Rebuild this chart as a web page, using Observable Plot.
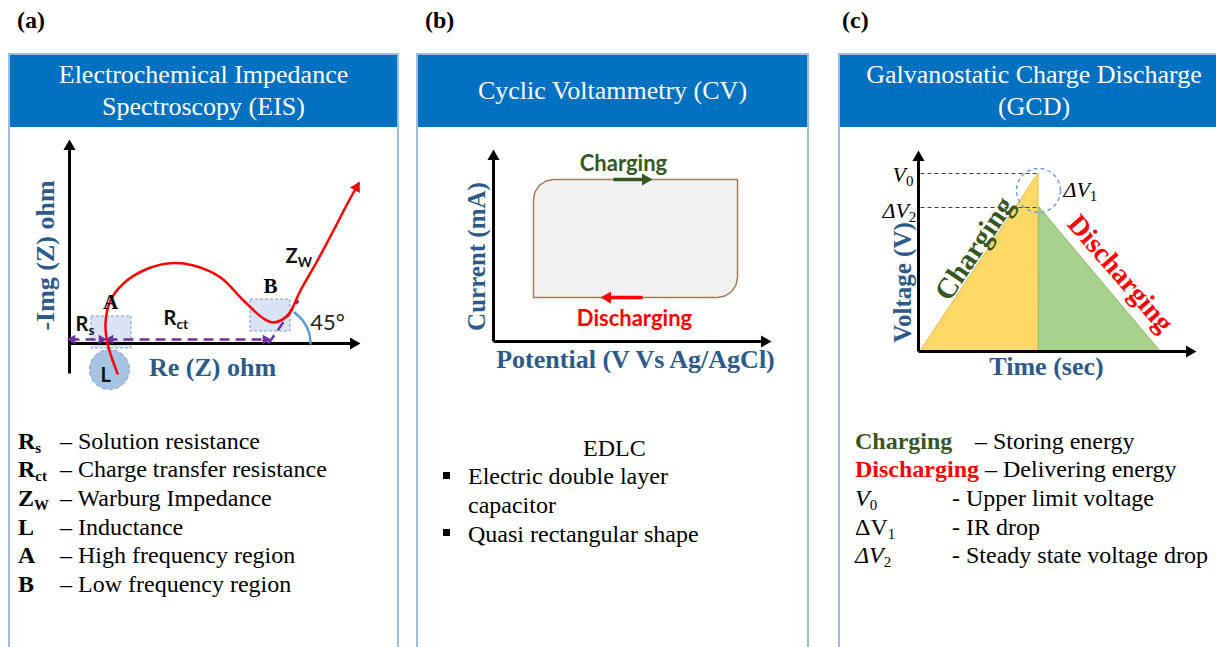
<!DOCTYPE html>
<html><head><meta charset="utf-8">
<script src="https://cdn.jsdelivr.net/npm/d3@7"></script>
<script src="https://cdn.jsdelivr.net/npm/@observablehq/plot@0.6"></script>
<style>
body{margin:0;width:1216px;height:647px;overflow:hidden;background:#fff;position:relative;font-family:"Liberation Serif",serif;color:#000;}
.plabel{position:absolute;top:8px;font-weight:bold;font-size:24px;line-height:24px;}
.panel{position:absolute;top:53px;height:620px;border:2px solid #a3bad9;box-sizing:border-box;}
.head{height:72px;background:#0070c0;color:#fff;font-size:26px;line-height:32px;text-align:center;display:flex;align-items:center;justify-content:center;}
.chart{position:absolute;}
.list{position:absolute;font-size:24px;line-height:28.7px;white-space:nowrap;}
.list sub{font-size:0.62em;vertical-align:-0.25em;line-height:0;}
.sq{display:inline-block;width:7px;height:7px;background:#000;vertical-align:0.22em;}
</style></head><body>
<div id="root"></div>
<script>
// ---------- text content ----------
const panelLetters = ["(a)", "(b)", "(c)"];
const panelTitles = [["Electrochemical Impedance", "Spectroscopy (EIS)"], ["Cyclic Voltammetry (CV)"], ["Galvanostatic Charge Discharge", "(GCD)"]];

// ---------- (a) EIS schematic (Re(Z) right, -Im(Z) up) ----------
const eisRe = [48, 38, 36, 41, 54, 74, 98, 124, 151, 174, 194, 204, 218, 231, 248, 264, 278, 289];
const eisIm = [-30, 0, 20, 43, 60, 73, 80, 78, 66, 43, 25, 21, 28, 53, 83, 113, 140, 160];
const eisAxes = [{x1: 0, y1: -30, x2: 0, y2: 196}, {x1: 0, y1: 0, x2: 283, y2: 0}];
const eisAxisHeads = [{x: 0, y: 197, a: 0}, {x: 284, y: 0, a: 90}];
const eisRegions = [{x1: 22, x2: 62, y1: -5, y2: 27}, {x1: 181, x2: 221, y1: 12, y2: 44}];
const eisInductance = [{x: 40, y: -26}];
const eisDims = [{x1: 0, x2: 34, y: 4}, {x1: 38, x2: 199, y: 4}];
const eisDimHeads = [{x: 3, y: 4, a: -90}, {x: 32, y: 4, a: 90}, {x: 41, y: 4, a: -90}, {x: 196, y: 4, a: 90}];
const eisTangent = [{x1: 199, y1: 0, x2: 229, y2: 43}];
const eisArcRe = [241, 239.5, 234, 225];
const eisArcIm = [0, 11, 22, 31];
const eisCurveHead = [{x: 287, y: 156, a: 29}];
const eisSansLabels = [{x: 6, y: 19, t: "R_s"}, {x: 94, y: 25, t: "R_ct"}, {x: 216, y: 87, t: "Z_W"}, {x: 31, y: -32, t: "L"}];
const eisSerifLabels = [{x: 41, y: 41, t: "A"}, {x: 201, y: 57, t: "B"}];
const eisAngle = [{x: 258, y: 21, t: "45°"}];
const eisYTitle = [{x: -24, y: 88, t: "-Img (Z) ohm"}];
const eisXTitle = [{x: 143, y: -24, t: "Re (Z) ohm"}];
const eisTerms = [["R", "s"], ["R", "ct"], ["Z", "W"], ["L", ""], ["A", ""], ["B", ""]];
const eisMeaning = ["Solution resistance", "Charge transfer resistance", "Warburg Impedance", "Inductance", "High frequency region", "Low frequency region"];

// ---------- (b) CV schematic ----------
const cvPotential = [40, 40, 41.5, 45.9, 52.5, 60, 244, 244, 242.5, 238.1, 231.5, 224, 40];
const cvCurrent = [44, 142, 149.7, 156.1, 160.5, 162, 162, 64, 56.3, 49.9, 45.5, 44, 44];
const cvAxes = [{x1: 0, y1: 0, x2: 0, y2: 184}, {x1: 0, y1: 0, x2: 270, y2: 0}];
const cvAxisHeads = [{x: 0, y: 185, a: 0}, {x: 271, y: 0, a: 90}];
const cvArrows = [{x1: 120, x2: 151, y: 162, c: "#375623"}, {x1: 149, x2: 116, y: 44, c: "#ff0000"}];
const cvArrowHeads = [{x: 152, y: 162, a: 90, c: "#375623"}, {x: 114, y: 44, a: -90, c: "#ff0000"}];
const cvLabels = [{x: 130, y: 178, t: "Charging", c: "#375623"}, {x: 141, y: 23, t: "Discharging", c: "#ff0000"}];
const cvYTitle = [{x: -17, y: 85, t: "Current (mA)"}];
const cvXTitle = [{x: 142, y: -18, t: "Potential (V Vs Ag/AgCl)"}];
const edlcTitle = "EDLC";
const edlcBullets = ["Electric double layer capacitor", "Quasi rectangular shape"];

// ---------- (c) GCD schematic ----------
const chargeTime = [2, 120];
const chargeVolt = [0, 178];
const dischargeTime = [121, 242];
const dischargeVolt = [144, 0];
const gcdAxes = [{x1: 0, y1: 0, x2: 0, y2: 193}, {x1: 0, y1: 0, x2: 270, y2: 0}];
const gcdAxisHeads = [{x: 0, y: 194, a: 0}, {x: 271, y: 0, a: 90}];
const gcdGuides = [{x1: 2, x2: 120, y: 178}, {x1: 2, x2: 121, y: 144}];
const gcdDrop = [{x: 120, y: 161}];
const gcdVLabels = [{x: -26, y: 177, t: "V_0"}, {x: 145, y: 162, t: "ΔV_1"}, {x: -36, y: 141, t: "ΔV_2"}];
const gcdCharging = [{x: 56, y: 103, t: "Charging"}];
const gcdDischarging = [{x: 202, y: 78, t: "Discharging"}];
const gcdYTitle = [{x: -16, y: 69, t: "Voltage (V)"}];
const gcdXTitle = [{x: 128, y: -15, t: "Time (sec)"}];
const gcdTerms = ["Charging", "Discharging", "V_0", "ΔV_1", "ΔV_2"];
const gcdMeaning = ["– Storing energy", "– Delivering energy", "- Upper limit voltage", "- IR drop", "- Steady state voltage drop"];

// ---------- helpers ----------
const SERIF = "Liberation Serif", SANS = "Lato", NAVY = "#2d5a88";
const zip = (xs, ys, kx, ky) => xs.map((v, i) => ({[kx]: v, [ky]: ys[i]}));
const NS = "http://www.w3.org/2000/svg";
function subscriptify(svg) {
  svg.querySelectorAll("text").forEach(t => {
    const m = t.textContent.match(/^(.*?)_(.+)$/);
    if (!m) return;
    t.textContent = "";
    const a = document.createElementNS(NS, "tspan"); a.textContent = m[1];
    const b = document.createElementNS(NS, "tspan"); b.textContent = m[2];
    b.setAttribute("font-size", "0.68em"); b.setAttribute("dy", "0.32em"); b.setAttribute("font-style", "normal");
    t.append(a, b);
  });
  return svg;
}
function heads(data, r, fill) {
  return Plot.dot(data, {x: "x", y: "y", symbol: "triangle", r, fill: fill ?? "c", stroke: "none", rotate: "a"});
}
const root = document.getElementById("root");
function place(el, left, top) { el.classList.add("chart"); el.style.left = left + "px"; el.style.top = top + "px"; root.appendChild(el); }

// ---------- frames ----------
const panelLeft = [8, 416, 838], panelWidth = [391, 393, 392], letterLeft = [17, 425, 842];
panelTitles.forEach((lines, i) => {
  const l = document.createElement("div"); l.className = "plabel"; l.style.left = letterLeft[i] + "px"; l.textContent = panelLetters[i]; root.appendChild(l);
  const p = document.createElement("div"); p.className = "panel"; p.style.left = panelLeft[i] + "px"; p.style.width = panelWidth[i] + "px";
  const h = document.createElement("div"); h.className = "head"; h.innerHTML = "<div>" + lines.join("<br>") + "</div>";
  p.appendChild(h); root.appendChild(p);
});

// ---------- (a) ----------
const plotA = Plot.plot({
  width: 386, height: 268, margin: 0,
  x: {domain: [-59, 327], axis: null}, y: {domain: [-55, 213], axis: null},
  marks: [
    Plot.dot(eisInductance, {x: "x", y: "y", r: 20, fill: "#a7c3e3", stroke: "#7f9fcf", strokeDasharray: "4,3", strokeWidth: 1}),
    Plot.rect(eisRegions, {x1: "x1", x2: "x2", y1: "y1", y2: "y2", fill: "#dae3f3", stroke: "#7f9fcf", strokeDasharray: "3,2", strokeWidth: 1}),
    Plot.link(eisAxes, {x1: "x1", y1: "y1", x2: "x2", y2: "y2", stroke: "#000", strokeWidth: 3}),
    heads(eisAxisHeads, 4.5, "#000"),
    Plot.link(eisDims, {x1: "x1", x2: "x2", y1: "y", y2: "y", stroke: "#7030a0", strokeWidth: 2.5, strokeDasharray: "10,6"}),
    heads(eisDimHeads, 3.6, "#7030a0"),
    Plot.link(eisTangent, {x1: "x1", y1: "y1", x2: "x2", y2: "y2", stroke: "#7030a0", strokeWidth: 2.5, strokeDasharray: "10,6"}),
    Plot.line(zip(eisArcRe, eisArcIm, "re", "im"), {x: "re", y: "im", curve: "catmull-rom", stroke: "#5b9bd5", strokeWidth: 2.5}),
    Plot.line(zip(eisRe, eisIm, "re", "im"), {x: "re", y: "im", curve: "catmull-rom", stroke: "#ff0000", strokeWidth: 2.5}),
    heads(eisCurveHead, 4.2, "#ff0000"),
    Plot.text(eisSansLabels, {x: "x", y: "y", text: "t", textAnchor: "start", fontFamily: SANS, fontWeight: "bold", fontSize: 20, fill: "#111"}),
    Plot.text(eisSerifLabels, {x: "x", y: "y", text: "t", fontFamily: SERIF, fontWeight: "bold", fontSize: 21, fill: "#000"}),
    Plot.text(eisAngle, {x: "x", y: "y", text: "t", fontFamily: SANS, fontSize: 22, fill: "#222"}),
    Plot.text(eisYTitle, {x: "x", y: "y", text: "t", rotate: -90, fontFamily: SERIF, fontWeight: "bold", fontSize: 26, fill: NAVY}),
    Plot.text(eisXTitle, {x: "x", y: "y", text: "t", fontFamily: SERIF, fontWeight: "bold", fontSize: 26, fill: NAVY})
  ]
});
place(subscriptify(plotA), 10, 130);

const listA = document.createElement("div"); listA.className = "list"; listA.style.left = "18px"; listA.style.top = "426.6px";
listA.innerHTML = eisTerms.map(([t, s], i) => `<div><span style="display:inline-block;width:42px;font-weight:bold">${t}${s ? `<sub>${s}</sub>` : ""}</span>– ${eisMeaning[i]}</div>`).join("");
root.appendChild(listA);

// ---------- (b) ----------
const plotB = Plot.plot({
  width: 385, height: 245, margin: 0,
  x: {domain: [-73, 312], axis: null}, y: {domain: [-39, 206], axis: null},
  marks: [
    Plot.line(zip(cvPotential, cvCurrent, "v", "i"), {x: "v", y: "i", fill: "#f2f2f2", stroke: "#a97b5c", strokeWidth: 1.5}),
    Plot.link(cvAxes, {x1: "x1", y1: "y1", x2: "x2", y2: "y2", stroke: "#000", strokeWidth: 3}),
    heads(cvAxisHeads, 4.5, "#000"),
    Plot.link(cvArrows, {x1: "x1", x2: "x2", y1: "y", y2: "y", stroke: "c", strokeWidth: 3.5}),
    heads(cvArrowHeads, 4.5),
    Plot.text(cvLabels, {x: "x", y: "y", text: "t", fill: "c", fontFamily: SANS, fontWeight: "bold", fontSize: 22}),
    Plot.text(cvYTitle, {x: "x", y: "y", text: "t", rotate: -90, fontFamily: SERIF, fontWeight: "bold", fontSize: 25, fill: NAVY}),
    Plot.text(cvXTitle, {x: "x", y: "y", text: "t", fontFamily: SERIF, fontWeight: "bold", fontSize: 26, fill: NAVY})
  ]
});
place(plotB, 420, 135);

const listB = document.createElement("div"); listB.className = "list"; listB.style.left = "443px"; listB.style.top = "433.6px";
listB.innerHTML = `<div style="padding-left:140px">${edlcTitle}</div>` + edlcBullets.map(b => `<div style="display:flex"><span style="width:25px;flex:none"><span class="sq"></span></span><span style="white-space:normal;width:255px">${b}</span></div>`).join("");
root.appendChild(listB);

// ---------- (c) ----------
const plotC = Plot.plot({
  width: 376, height: 250, margin: 0,
  x: {domain: [-78, 298], axis: null}, y: {domain: [-34, 216], axis: null},
  marks: [
    Plot.areaY(zip(chargeTime, chargeVolt, "t", "v"), {x: "t", y: "v", fill: "#ffd966", stroke: "#e9b949", strokeWidth: 1}),
    Plot.areaY(zip(dischargeTime, dischargeVolt, "t", "v"), {x: "t", y: "v", fill: "#a9d18e", stroke: "#8dbb6e", strokeWidth: 1}),
    Plot.link(gcdGuides, {x1: "x1", x2: "x2", y1: "y", y2: "y", stroke: "#404040", strokeWidth: 1.2, strokeDasharray: "4,3"}),
    Plot.dot(gcdDrop, {x: "x", y: "y", r: 22, fill: "none", stroke: "#6fa3d8", strokeWidth: 1.5, strokeDasharray: "4,3"}),
    Plot.link(gcdAxes, {x1: "x1", y1: "y1", x2: "x2", y2: "y2", stroke: "#000", strokeWidth: 3}),
    heads(gcdAxisHeads, 4.5, "#000"),
    Plot.text(gcdYTitle, {x: "x", y: "y", text: "t", rotate: -90, fontFamily: SERIF, fontWeight: "bold", fontSize: 25, fill: NAVY}),
    Plot.text(gcdXTitle, {x: "x", y: "y", text: "t", fontFamily: SERIF, fontWeight: "bold", fontSize: 26, fill: NAVY}),
    Plot.text(gcdVLabels, {x: "x", y: "y", text: "t", textAnchor: "start", fontFamily: SERIF, fontStyle: "italic", fontSize: 22, fill: "#000"}),
    Plot.text(gcdCharging, {x: "x", y: "y", text: "t", rotate: -56, fontFamily: SERIF, fontWeight: "bold", fontSize: 29, fill: "#375623"}),
    Plot.text(gcdDischarging, {x: "x", y: "y", text: "t", rotate: 49, fontFamily: SERIF, fontWeight: "bold", fontSize: 28, fill: "#ff0000"})
  ]
});
place(subscriptify(plotC), 840, 135);

const gcdTermStyle = ["font-weight:bold;color:#375623", "font-weight:bold;color:#ff0000", "font-style:italic", "", "font-style:italic"];
const gcdTermWidth = [120, null, 97, 97, 97];
const listC = document.createElement("div"); listC.className = "list"; listC.style.left = "855px"; listC.style.top = "426.6px";
listC.innerHTML = gcdTerms.map((t, i) => {
  const [m, s] = t.split("_");
  const lab = `${m}${s ? `<sub style="font-style:normal">${s}</sub>` : ""}`;
  const w = gcdTermWidth[i];
  return `<div><span style="${gcdTermStyle[i]};${w ? `display:inline-block;width:${w}px` : ""}">${lab}</span>${w ? "" : " "}${gcdMeaning[i]}</div>`;
}).join("");
root.appendChild(listC);
</script>
</body></html>
